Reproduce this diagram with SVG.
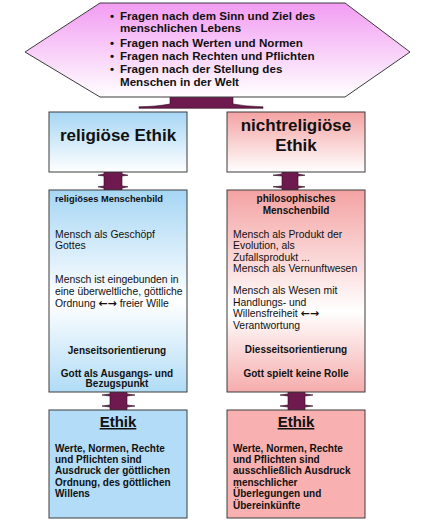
<svg xmlns="http://www.w3.org/2000/svg" width="432" height="528" viewBox="0 0 432 528">
<defs>
<linearGradient id="gHex" x1="0" y1="0" x2="0" y2="1"><stop offset="0" stop-color="#f29cf2"/><stop offset="1" stop-color="#ffffff"/></linearGradient>
<linearGradient id="gBlue" x1="0" y1="0" x2="0" y2="1"><stop offset="0" stop-color="#a6d6f4"/><stop offset="1" stop-color="#ffffff"/></linearGradient>
<linearGradient id="gRed" x1="0" y1="0" x2="0" y2="1"><stop offset="0" stop-color="#f4a2a2"/><stop offset="1" stop-color="#ffffff"/></linearGradient>
<linearGradient id="gBlue2" x1="0" y1="0" x2="0" y2="1"><stop offset="0" stop-color="#a6d6f4"/><stop offset="0.55" stop-color="#ffffff"/><stop offset="1" stop-color="#b0dcf6"/></linearGradient>
<linearGradient id="gRed2" x1="0" y1="0" x2="0" y2="1"><stop offset="0" stop-color="#f4a2a2"/><stop offset="0.6" stop-color="#ffffff"/><stop offset="1" stop-color="#f6acac"/></linearGradient>
</defs>
<style>
.box{stroke:#3c3c3c;stroke-width:1}
.arr{fill:#6e1a4e;stroke:#2a0a1c;stroke-width:0.6}
text{font-family:"Liberation Sans",Arial,sans-serif;fill:#111}
.hx{font-size:11.6px;font-weight:bold}
.h1{font-size:17px;font-weight:bold;text-anchor:middle}
.b{font-size:10px;font-weight:bold}
.bc{font-size:10px;font-weight:bold;text-anchor:middle}
.r{font-size:10.4px}
.et{font-size:15px;font-weight:bold;text-anchor:middle;text-decoration:underline}
.lr{font-family:"DejaVu Sans",sans-serif;font-weight:bold;font-size:11px}
</style>
<g id="connectors">
<path class="arr" d="M170,96 H233 V104 Q246,106.5 263,106.8 V108.3 H139 V106.8 Q157,106.5 170,104 Z"/>
<path class="arr" d="M104,172 H122 V174 L128,175.2 L122,176 V186 L128,186.8 L122,188 V190 H104 V188 L98,186.8 L104,186 V176 L98,175.2 L104,174 Z"/>
<path class="arr" d="M282,172 H298 V174 L305,175.2 L298,176 V186 L305,186.8 L298,188 V190 H282 V188 L273,186.8 L282,186 V176 L273,175.2 L282,174 Z"/>
<path class="arr" d="M110,392 H127 V394 L135,395 L127,396 V405 L135,406 L127,407 V410 H110 V407 L102,406 L110,405 V396 L102,395 L110,394 Z"/>
<path class="arr" d="M288,392 H305 V394 L313,395 L305,396 V405 L313,406 L305,407 V410 H288 V407 L280,406 L288,405 V396 L280,395 L288,394 Z"/>
</g>
<g id="hexagon">
<polygon class="box" points="100,3 345,3 410,52 345,97 100,97 25,52" fill="url(#gHex)"/>
<text class="hx" x="110" y="20">•</text><text class="hx" x="120" y="20">Fragen nach dem Sinn und Ziel des</text>
<text class="hx" x="120" y="32">menschlichen Lebens</text>
<text class="hx" x="110" y="46.5">•</text><text class="hx" x="120" y="46.5">Fragen nach Werten und Normen</text>
<text class="hx" x="110" y="60">•</text><text class="hx" x="120" y="60">Fragen nach Rechten und Pflichten</text>
<text class="hx" x="110" y="73">•</text><text class="hx" x="120" y="73">Fragen nach der Stellung des</text>
<text class="hx" x="120" y="86">Menschen in der Welt</text>
</g>
<g id="rel-ethik">
<rect class="box" x="49" y="112" width="138" height="60" fill="url(#gBlue)"/>
<text class="h1" x="118" y="140.5">religiöse Ethik</text>
</g>
<g id="nichtrel-ethik">
<rect class="box" x="227" y="112" width="138" height="60" fill="url(#gRed)"/>
<text class="h1" x="296" y="131">nichtreligiöse</text>
<text class="h1" x="296" y="151">Ethik</text>
</g>
<g id="rel-menschenbild">
<rect class="box" x="49" y="190" width="138" height="202" fill="url(#gBlue2)"/>
<text class="b" x="55" y="202" style="font-size:9.3px">religiöses Menschenbild</text>
<text class="r" x="55" y="237.5">Mensch als Geschöpf</text>
<text class="r" x="55" y="249.2">Gottes</text>
<text class="r" x="55" y="283">Mensch ist eingebunden in</text>
<text class="r" x="55" y="295">eine überweltliche, göttliche</text>
<text class="r" x="55" y="306.7">Ordnung <tspan class="lr">←→</tspan> freier Wille</text>
<text class="bc" x="117" y="354">Jenseitsorientierung</text>
<text class="bc" x="117" y="376.5">Gott als Ausgangs- und</text>
<text class="bc" x="117" y="387">Bezugspunkt</text>
</g>
<g id="phil-menschenbild">
<rect class="box" x="227" y="190" width="138" height="202" fill="url(#gRed2)"/>
<text class="bc" x="296" y="201.7">philosophisches</text>
<text class="bc" x="296" y="214">Menschenbild</text>
<text class="r" x="233" y="237.7">Mensch als Produkt der</text>
<text class="r" x="233" y="249.3">Evolution, als</text>
<text class="r" x="233" y="260.7">Zufallsprodukt ...</text>
<text class="r" x="233" y="271.7">Mensch als Vernunftwesen</text>
<text class="r" x="233" y="294.3">Mensch als Wesen mit</text>
<text class="r" x="233" y="306">Handlungs- und</text>
<text class="r" x="233" y="317.3">Willensfreiheit <tspan class="lr">←→</tspan></text>
<text class="r" x="233" y="329.3">Verantwortung</text>
<text class="bc" x="296" y="353.3">Diesseitsorientierung</text>
<text class="bc" x="296" y="376.7">Gott spielt keine Rolle</text>
</g>
<g id="ethik-rel">
<rect class="box" x="49" y="410" width="138" height="108" fill="#b2dcf8"/>
<text class="et" x="118" y="427">Ethik</text>
<text class="b" x="55" y="451.7">Werte, Normen, Rechte</text>
<text class="b" x="55" y="463">und Pflichten sind</text>
<text class="b" x="55" y="474.3">Ausdruck der göttlichen</text>
<text class="b" x="55" y="485.7">Ordnung, des göttlichen</text>
<text class="b" x="55" y="497.3">Willens</text>
</g>
<g id="ethik-nichtrel">
<rect class="box" x="227" y="410" width="138" height="108" fill="#f8b0b0"/>
<text class="et" x="296" y="427">Ethik</text>
<text class="b" x="233" y="451.7">Werte, Normen, Rechte</text>
<text class="b" x="233" y="463">und Pflichten sind</text>
<text class="b" x="233" y="474.3">ausschließlich Ausdruck</text>
<text class="b" x="233" y="485.7">menschlicher</text>
<text class="b" x="233" y="497">Überlegungen und</text>
<text class="b" x="233" y="508.5">Übereinkünfte</text>
</g>
</svg>
